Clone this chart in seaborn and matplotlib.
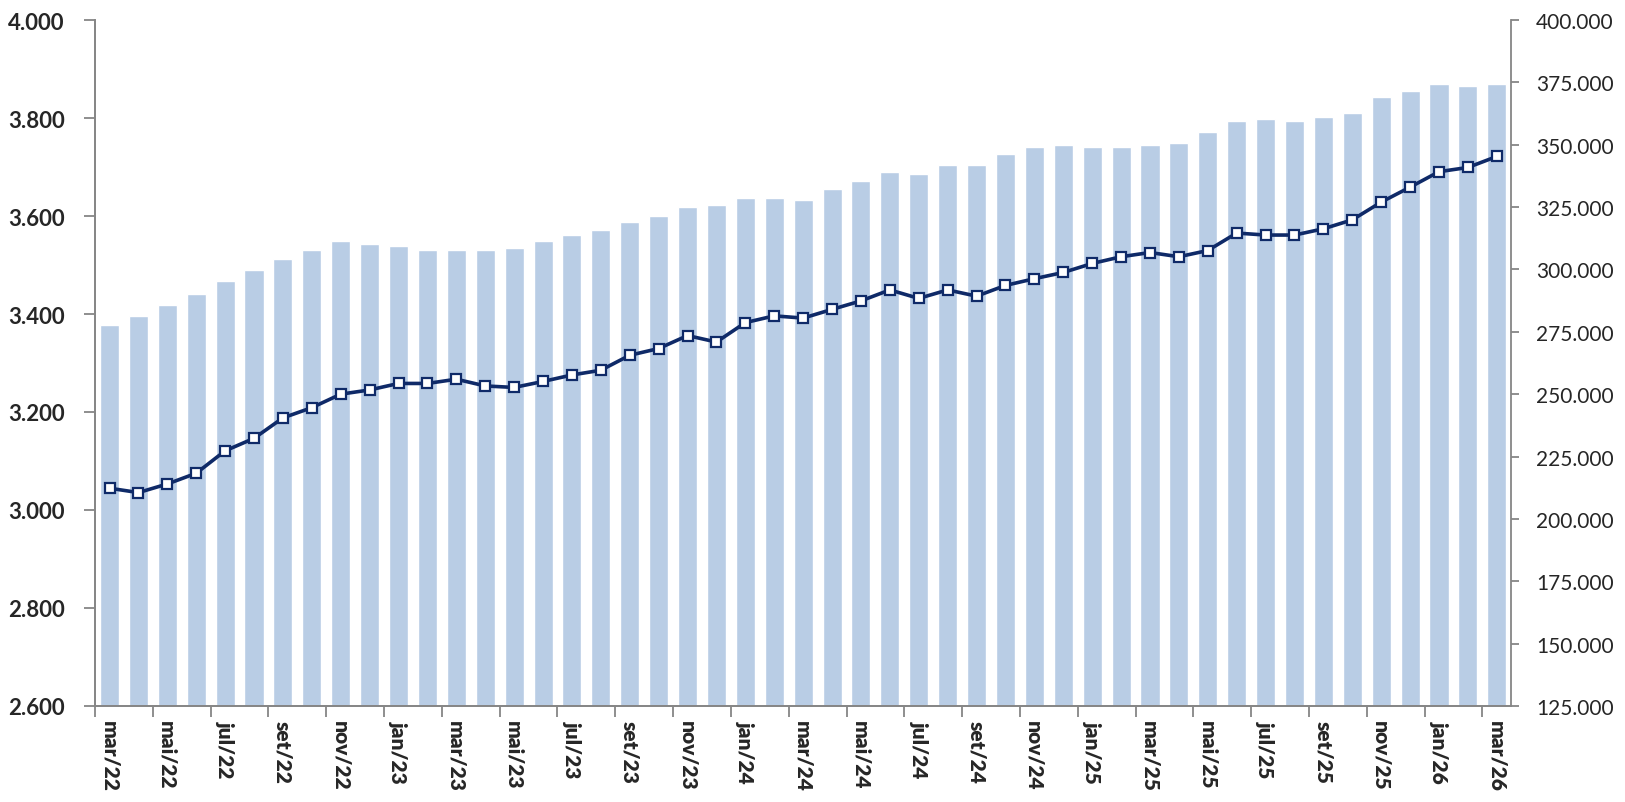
import matplotlib
matplotlib.use("Agg")
import matplotlib.pyplot as plt
import matplotlib.ticker as mticker
import numpy as np
import pandas as pd
import seaborn as sns

# Monate (mar/22 bis mar/26)
meses = ["mar/22", "abr/22", "mai/22", "jun/22", "jul/22", "ago/22", "set/22", "out/22", "nov/22", "dez/22",
         "jan/23", "fev/23", "mar/23", "abr/23", "mai/23", "jun/23", "jul/23", "ago/23", "set/23", "out/23",
         "nov/23", "dez/23", "jan/24", "fev/24", "mar/24", "abr/24", "mai/24", "jun/24", "jul/24", "ago/24",
         "set/24", "out/24", "nov/24", "dez/24", "jan/25", "fev/25", "mar/25", "abr/25", "mai/25", "jun/25",
         "jul/25", "ago/25", "set/25", "out/25", "nov/25", "dez/25", "jan/26", "fev/26", "mar/26"]

# Balken (linke Achse)
barras = [3378, 3396, 3419, 3441, 3467, 3490, 3512, 3530, 3548, 3543,
          3539, 3530, 3530, 3530, 3535, 3548, 3562, 3571, 3588, 3601,
          3619, 3623, 3637, 3637, 3632, 3655, 3672, 3690, 3686, 3705,
          3705, 3727, 3740, 3744, 3740, 3740, 3744, 3749, 3771, 3793,
          3798, 3793, 3802, 3811, 3843, 3856, 3869, 3865, 3869]

# Linie (rechte Achse)
linha = [212300, 210550, 214000, 218300, 227300, 232300, 240500, 244600, 250000, 251700,
         254300, 254300, 256000, 253300, 252700, 255100, 257700, 259600, 265600, 268300,
         273500, 270900, 278700, 281400, 280500, 284000, 287400, 291800, 288400, 291800,
         289300, 293600, 296300, 298800, 302400, 305100, 306800, 305100, 307600, 314600,
         313800, 313800, 316300, 319900, 327000, 333000, 339200, 340900, 345300]

df = pd.DataFrame({"mes": meses, "barra": barras, "linha": linha, "pos": np.arange(len(meses))})

sns.set_style("ticks")
plt.rcParams["font.family"] = ["Lato", "DejaVu Sans"]

grau = "#868686"
fig = plt.figure(figsize=(16.25, 8.03), dpi=100)
ax = fig.add_axes([0.0585, 0.1196, 0.8715, 0.8542])

sns.barplot(data=df, x="mes", y="barra", color="#B9CDE5", saturation=1, width=0.66, ax=ax, zorder=2)
ax.set_ylim(2600, 4000)
ax.set_xlim(-0.5, len(meses) - 0.5)
ax.set_yticks(np.arange(2600, 4001, 200))

# Rechte Achse für die Linie
ax2 = ax.twinx()
sns.lineplot(data=df, x="pos", y="linha", ax=ax2, color="#0F2A68", linewidth=2.6,
             marker="s", markersize=7.5, markerfacecolor="white", markeredgecolor="#0F2A68",
             markeredgewidth=1.6)
ax2.set_ylim(125000, 400000)
ax2.set_yticks(np.arange(125000, 400001, 25000))
ax2.set_xlim(-0.5, len(meses) - 0.5)

fmt = mticker.FuncFormatter(lambda v, p: f"{v:,.0f}".replace(",", "."))
ax.yaxis.set_major_formatter(fmt)
ax2.yaxis.set_major_formatter(fmt)

# X-Achse: Striche zwischen Kategorien, Beschriftung alle 2 Monate
ax.set_xticks(np.arange(-0.5, len(meses) - 1, 2))
ax.set_xticklabels([])
ax.set_xticks(np.arange(0, len(meses), 2), minor=True)
ax.set_xticklabels(meses[::2], minor=True, rotation=270, fontsize=15, fontweight="heavy", va="top", ha="center")
ax.tick_params(axis="x", which="minor", length=0, pad=10)
ax.tick_params(axis="x", which="major", length=8, width=1.3, color=grau, direction="out")

ax.tick_params(axis="y", length=8, width=1.3, color=grau, labelsize=16, pad=14)
for t in ax.get_yticklabels():
    t.set_fontweight("bold")
ax2.tick_params(axis="y", length=6, width=1.3, color=grau, labelsize=15, pad=12)

ax.set_xlabel("")
ax.set_ylabel("")
ax2.set_xlabel("")
ax2.set_ylabel("")

for a in (ax, ax2):
    a.spines["top"].set_visible(False)
    for s in ("left", "right", "bottom"):
        a.spines[s].set_color(grau)
        a.spines[s].set_linewidth(1.3)
ax.spines["right"].set_visible(False)

plt.savefig("out.png", dpi=100)
